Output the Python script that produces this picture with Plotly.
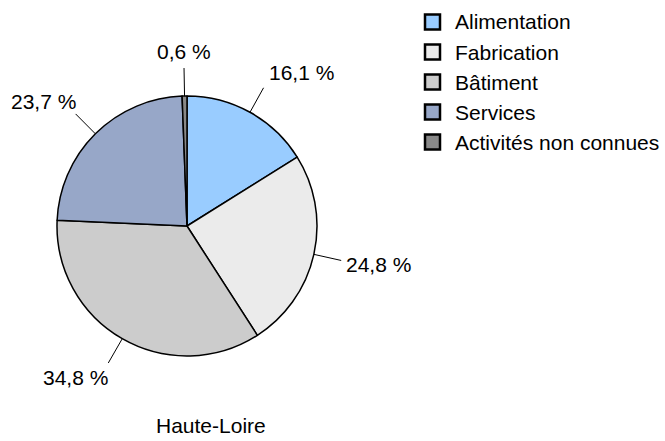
import math
import plotly.graph_objects as go

categories = ["Alimentation", "Fabrication", "Bâtiment", "Services", "Activités non connues"]
values = [16.1, 24.8, 34.8, 23.7, 0.6]
colors = ["#99CCFF", "#EBEBEB", "#CCCCCC", "#97A7C8", "#888888"]
title_text = "Haute-Loire"

W, H = 665, 441
CX, CY, R = 187, 226, 130   # pie centre / radius in pixels
FONT = "Liberation Sans, Arial, sans-serif"
FS = 21


def px(x):
    return x / W


def py(y):
    return 1 - y / H


fig = go.Figure(go.Pie(
    labels=categories,
    values=values,
    marker=dict(colors=colors, line=dict(color="#000000", width=1.5)),
    sort=False,
    direction="clockwise",
    rotation=0,
    textinfo="none",
    hoverinfo="label+percent",
    showlegend=False,
    domain=dict(x=[px(CX - R), px(CX + R)], y=[py(CY + R), py(CY - R)]),
))

shapes = []
annotations = []

# outside labels with leader lines, computed from the values
total = sum(values)
cum = 0.0
for v in values:
    mid = (cum + v / 2) / total * 2 * math.pi
    cum += v
    s, c = math.sin(mid), math.cos(mid)
    x0, y0 = CX + R * s, CY - R * c
    x1, y1 = CX + (R + 28) * s, CY - (R + 28) * c
    shapes.append(dict(type="line", xref="paper", yref="paper",
                       x0=px(x0), y0=py(y0), x1=px(x1), y1=py(y1),
                       line=dict(color="#000000", width=1)))
    if s > 0.2:
        xa, xs = "left", 3
    elif s < -0.2:
        xa, xs = "right", 2
    else:
        xa, xs = "center", 0
    pct = f"{v:.1f}".replace(".", ",") + " %"
    annotations.append(dict(xref="paper", yref="paper", x=px(x1), y=py(y1),
                            text=pct, showarrow=False, xanchor=xa, yanchor="middle",
                            xshift=xs, yshift=17 * c,
                            font=dict(family=FONT, size=FS, color="#000000")))

# legend
LX, LY0, LSTEP, SQ = 425, 22, 30, 15
for i, (lab, col) in enumerate(zip(categories, colors)):
    yc = LY0 + i * LSTEP
    shapes.append(dict(type="rect", xref="paper", yref="paper",
                       x0=px(LX), x1=px(LX + SQ), y0=py(yc - SQ / 2), y1=py(yc + SQ / 2),
                       fillcolor=col, line=dict(color="#000000", width=2.5)))
    annotations.append(dict(xref="paper", yref="paper", x=px(453), y=py(yc),
                            text=lab, showarrow=False, xanchor="left", yanchor="middle",
                            font=dict(family=FONT, size=FS, color="#000000")))

annotations.append(dict(xref="paper", yref="paper", x=px(211), y=py(425),
                        text=title_text, showarrow=False, xanchor="center", yanchor="middle",
                        font=dict(family=FONT, size=FS, color="#000000")))

fig.update_layout(
    width=W, height=H,
    margin=dict(l=0, r=0, t=0, b=0),
    paper_bgcolor="#FFFFFF",
    plot_bgcolor="#FFFFFF",
    shapes=shapes,
    annotations=annotations,
    showlegend=False,
)

fig.write_html("out.html",
               config={"displayModeBar": False},
               post_script="document.body.style.margin='0';document.body.style.padding='0';")
